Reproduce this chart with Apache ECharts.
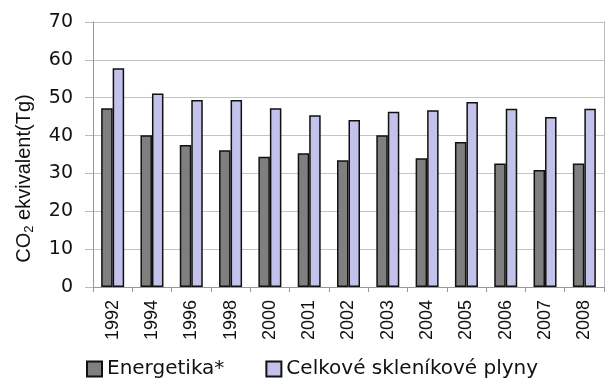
<!DOCTYPE html>
<html>
<head>
<meta charset="utf-8">
<script src="https://cdn.jsdelivr.net/npm/echarts@6/dist/echarts.min.js"></script>
<style>
  html, body { margin: 0; padding: 0; background: #fff; }
  #chart { width: 605px; height: 379px; }
</style>
</head>
<body>
<div id="chart"></div>
<script>
// data
var years = ['1992','1994','1996','1998','2000','2001','2002','2003','2004','2005','2006','2007','2008'];
var energetika = [47.2, 40.1, 37.5, 36.1, 34.4, 35.3, 33.5, 40.1, 34.0, 38.3, 32.6, 30.9, 32.6];
var celkove = [57.8, 51.1, 49.4, 49.4, 47.2, 45.4, 44.1, 46.3, 46.7, 48.9, 47.1, 44.9, 47.1];
var seriesNames = ['Energetika*', 'Celkové skleníkové plyny'];

var FONT = 'Liberation Sans, Arial, sans-serif';
var WIDE = 'DejaVu Sans, sans-serif';
var myChart = echarts.init(document.getElementById('chart'));

myChart.setOption({
    animation: false,
    textStyle: { fontFamily: FONT },
    grid: { left: 93, right: 1, top: 22, bottom: 92, containLabel: false },
    legend: {
        bottom: 0,
        left: 86,
        padding: 0,
        itemGap: 41,
        itemWidth: 15,
        itemHeight: 15,
        icon: 'rect',
        textStyle: { fontSize: 20, color: '#111', fontFamily: WIDE },
        data: seriesNames
    },
    xAxis: {
        type: 'category',
        data: years,
        boundaryGap: true,
        axisLine: { lineStyle: { color: '#999', width: 1 } },
        axisTick: { show: true, length: 5, lineStyle: { color: '#999' } },
        axisLabel: { rotate: 90, fontSize: 18, color: '#111', margin: 13, fontFamily: FONT }
    },
    yAxis: [{
        type: 'value',
        min: 0, max: 70, interval: 10,
        name: '{a|CO}{s|2}{a| ekvivalent(Tg)}',
        nameLocation: 'middle',
        nameGap: 57,
        nameRotate: 90,
        nameTextStyle: {
            padding: [0, 48, 0, 0],
            rich: {
                a: { fontSize: 20, color: '#111', fontFamily: FONT },
                s: { fontSize: 13, color: '#111', fontFamily: FONT, verticalAlign: 'bottom', padding: [10, 0, 0, 0] }
            }
        },
        axisLine: { show: true, lineStyle: { color: '#999' } },
        axisTick: { show: true, length: 8, lineStyle: { color: '#bbb' } },
        splitLine: { lineStyle: { color: '#c4c4c4', width: 1 } },
        axisLabel: { fontSize: 19, color: '#111', margin: 20, fontFamily: WIDE }
    }, {
        // right border of the plot area
        type: 'value',
        position: 'right',
        min: 0, max: 70, interval: 10,
        axisLine: { show: true, lineStyle: { color: '#bbb' } },
        axisTick: { show: false },
        axisLabel: { show: false },
        splitLine: { show: false }
    }],
    series: [
        {
            name: seriesNames[0],
            type: 'bar',
            data: energetika,
            barWidth: 11.5,
            barGap: '0%',
            itemStyle: { color: '#7f7f7f', borderColor: '#111', borderWidth: 1.5 }
        },
        {
            name: seriesNames[1],
            type: 'bar',
            data: celkove,
            barWidth: 11.5,
            barGap: '0%',
            itemStyle: { color: '#c2c2ea', borderColor: '#111', borderWidth: 1.5 }
        }
    ]
});
</script>
</body>
</html>
